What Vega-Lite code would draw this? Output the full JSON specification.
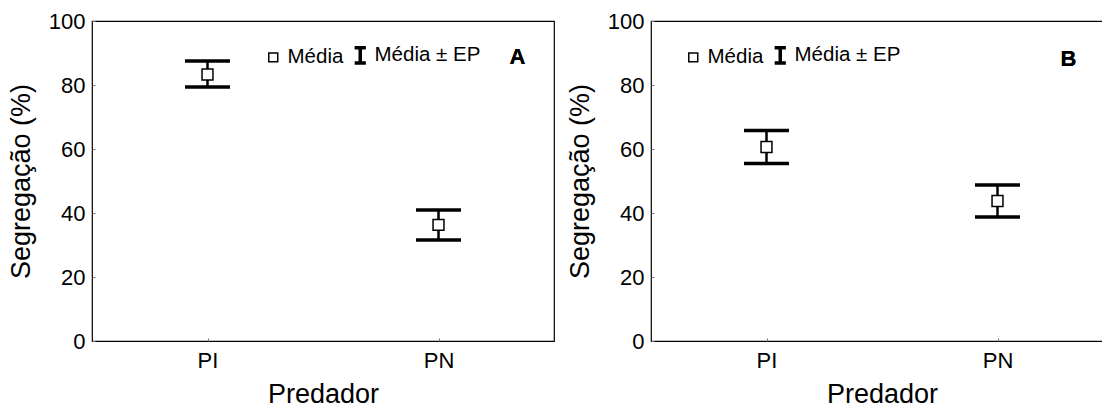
{
  "$schema": "https://vega.github.io/schema/vega-lite/v6.json",
  "padding": {"left": 6, "top": 9, "right": 0, "bottom": 0},
  "spacing": 10,
  "background": "white",
  "config": {
    "font": "Liberation Sans",
    "view": {"stroke": "black", "strokeWidth": 1.2},
    "axis": {
      "domain": false,
      "grid": false,
      "labelFont": "Liberation Sans",
      "labelFontSize": 22,
      "labelColor": "black",
      "titleFont": "Liberation Sans",
      "titleFontSize": 27,
      "titleFontWeight": "normal",
      "titleColor": "black",
      "tickColor": "#777",
      "tickSize": -3,
      "tickWidth": 1
    },
    "axisX": {"labelAngle": 0, "labelPadding": 12, "titlePadding": 10},
    "axisY": {"labelPadding": 10, "titlePadding": 13},
    "legend": {
      "orient": "none",
      "direction": "horizontal",
      "title": null,
      "labelFont": "Liberation Sans",
      "labelFontSize": 20.5,
      "labelColor": "black",
      "symbolSize": 256,
      "labelOffset": 4,
      "columnPadding": 3,
      "padding": 0
    }
  },
  "hconcat": [
    {
      "width": 462,
      "height": 320,
      "data": {"values": [
        {"painel": "A", "predador": "PI", "media": 83.3, "inferior": 79.4, "superior": 87.5, "legenda": "Média"},
        {"painel": "A", "predador": "PN", "media": 36.3, "inferior": 31.6, "superior": 40.9, "legenda": "Média"}
      ]},
      "encoding": {
        "x": {"field": "predador", "type": "nominal", "scale": {"type": "point", "padding": 0.5}, "axis": {"title": "Predador"}}
      },
      "layer": [
        {
          "mark": {"type": "rule", "strokeWidth": 2.5, "color": "black"},
          "encoding": {
            "y": {"field": "inferior", "type": "quantitative", "scale": {"domain": [0, 100]}, "axis": {"title": "Segregação (%)", "values": [0, 20, 40, 60, 80, 100]}},
            "y2": {"field": "superior"}
          }
        },
        {
          "mark": {"type": "tick", "thickness": 3.5, "size": 45, "color": "black", "opacity": 1},
          "encoding": {"y": {"field": "superior", "type": "quantitative"}}
        },
        {
          "mark": {"type": "tick", "thickness": 3.5, "size": 45, "color": "black", "opacity": 1},
          "encoding": {"y": {"field": "inferior", "type": "quantitative"}}
        },
        {
          "mark": {"type": "point", "filled": true, "fill": "white", "stroke": "black", "size": 380, "opacity": 1},
          "encoding": {
            "y": {"field": "media", "type": "quantitative"},
            "shape": {
              "field": "legenda", "type": "nominal",
              "scale": {"domain": ["Média", "Média ± EP"], "range": ["M-0.56,-0.56H0.56V0.56H-0.56Z", "M-0.7,-0.95H0.7M0,-0.95V0.95M-0.7,0.95H0.7"]},
              "legend": {"legendX": 171, "legendY": 24}
            },
            "strokeWidth": {
              "field": "legenda", "type": "nominal",
              "scale": {"type": "ordinal", "domain": ["Média", "Média ± EP"], "range": [1.5, 3.5]},
              "legend": {"legendX": 171, "legendY": 24}
            }
          }
        },
        {
          "mark": {"type": "text", "text": "A", "fontWeight": "bold", "fontSize": 22, "dx": 79, "baseline": "middle", "align": "center", "color": "black"},
          "encoding": {"x": {"datum": "PN"}, "y": {"datum": 88.75}}
        }
      ]
    },
    {
      "width": 462,
      "height": 320,
      "data": {"values": [
        {"painel": "B", "predador": "PI", "media": 60.6, "inferior": 55.5, "superior": 65.8, "legenda": "Média"},
        {"painel": "B", "predador": "PN", "media": 43.75, "inferior": 38.75, "superior": 48.75, "legenda": "Média"}
      ]},
      "encoding": {
        "x": {"field": "predador", "type": "nominal", "scale": {"type": "point", "padding": 0.5}, "axis": {"title": "Predador"}}
      },
      "layer": [
        {
          "mark": {"type": "rule", "strokeWidth": 2.5, "color": "black"},
          "encoding": {
            "y": {"field": "inferior", "type": "quantitative", "scale": {"domain": [0, 100]}, "axis": {"title": "Segregação (%)", "values": [0, 20, 40, 60, 80, 100]}},
            "y2": {"field": "superior"}
          }
        },
        {
          "mark": {"type": "tick", "thickness": 3.5, "size": 45, "color": "black", "opacity": 1},
          "encoding": {"y": {"field": "superior", "type": "quantitative"}}
        },
        {
          "mark": {"type": "tick", "thickness": 3.5, "size": 45, "color": "black", "opacity": 1},
          "encoding": {"y": {"field": "inferior", "type": "quantitative"}}
        },
        {
          "mark": {"type": "point", "filled": true, "fill": "white", "stroke": "black", "size": 380, "opacity": 1},
          "encoding": {
            "y": {"field": "media", "type": "quantitative"},
            "shape": {
              "field": "legenda", "type": "nominal",
              "scale": {"domain": ["Média", "Média ± EP"], "range": ["M-0.56,-0.56H0.56V0.56H-0.56Z", "M-0.7,-0.95H0.7M0,-0.95V0.95M-0.7,0.95H0.7"]},
              "legend": {"legendX": 32, "legendY": 24}
            },
            "strokeWidth": {
              "field": "legenda", "type": "nominal",
              "scale": {"type": "ordinal", "domain": ["Média", "Média ± EP"], "range": [1.5, 3.5]},
              "legend": {"legendX": 32, "legendY": 24}
            }
          }
        },
        {
          "mark": {"type": "text", "text": "B", "fontWeight": "bold", "fontSize": 22, "dx": 71, "baseline": "middle", "align": "center", "color": "black"},
          "encoding": {"x": {"datum": "PN"}, "y": {"datum": 88.1}}
        }
      ]
    }
  ],
  "resolve": {"scale": {"shape": "independent", "strokeWidth": "independent", "x": "independent", "y": "independent"}, "legend": {"shape": "independent", "strokeWidth": "independent"}}
}
